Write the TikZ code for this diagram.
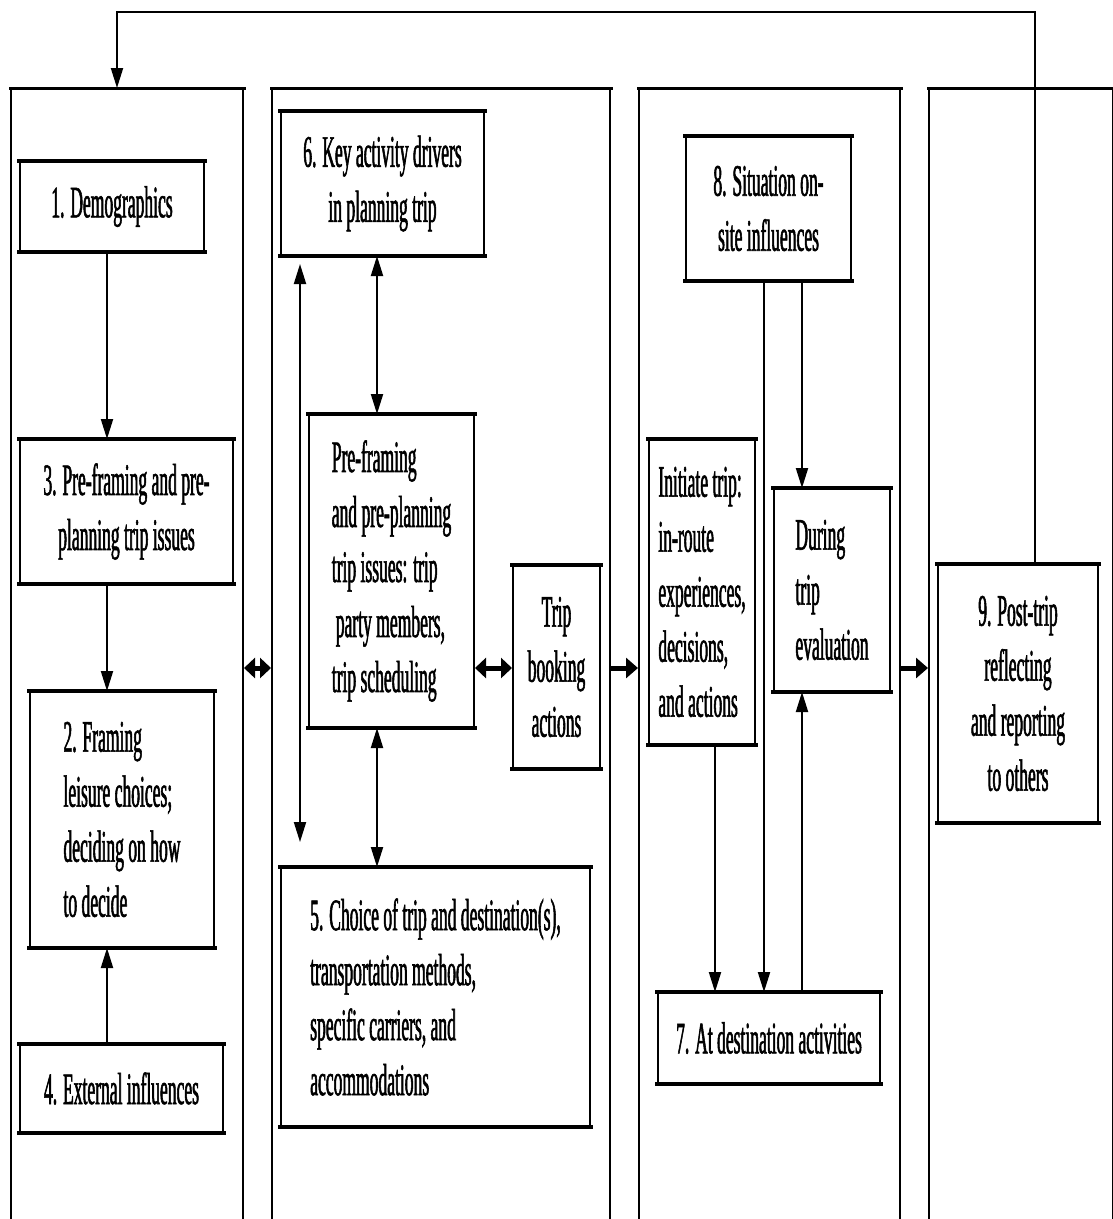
\documentclass[tikz,border=0pt]{standalone}
\usepackage{fontspec}
\setmainfont{Liberation Serif}[FakeStretch=0.39, FakeBold=1.2]
\usetikzlibrary{arrows.meta,calc}

\begin{document}
\begin{tikzpicture}[x=1pt,y=-1pt,
  panel/.style={draw, line width=2pt, inner sep=0pt, anchor=north west, minimum height=1200pt},
  box/.style={draw, line width=2pt, inner sep=0pt, fill=white,
    font=\fontsize{45}{55}\selectfont},
  arr/.style={line width=2pt, -{Triangle[length=20pt,width=12pt]}},
  darr/.style={line width=2pt, {Triangle[length=20pt,width=12pt]}-{Triangle[length=20pt,width=12pt]}},
  fatarr/.style={line width=5pt, -{Triangle[length=12pt,width=20pt]}},
  fatdarr/.style={line width=5pt, {Triangle[length=11pt,width=20pt]}-{Triangle[length=11pt,width=20pt]}},
]
\useasboundingbox (0,0) rectangle (1113,1219);
\fill[white] (0,0) rectangle (1113,1219);
\clip (0,0) rectangle (1113,1219);

% four stage panels, open at the bottom
\node[panel, minimum width=232pt] (p1) at (10,88) {};
\node[panel, minimum width=338pt] (p2) at (271,88) {};
\node[panel, minimum width=261pt] (p3) at (638,88) {};
\node[panel, minimum width=184pt] (p4) at (928,88) {};
\foreach \p in {p1,p2,p3,p4}
  \draw[line width=3pt, line cap=rect] (\p.north west) -- (\p.north east);

% stage 1: framing
\node[box, minimum width=184pt, minimum height=89pt, align=center] (b1) at (112,206.5) {1. Demographics};
\node[box, minimum width=213pt, minimum height=143pt, align=center] (b3) at (126.5,511.5) {3. Pre-framing and pre-\\planning trip issues};
\node[box, minimum width=184pt, minimum height=255pt, align=left] (b2) at (122,819.5) {2. Framing\\leisure choices;\\deciding on how\\to decide};
\node[box, minimum width=203pt, minimum height=87pt, align=center] (b4) at (121.5,1088.5) {4. External influences};

% stage 2: planning
\node[box, minimum width=203pt, minimum height=143pt, align=center] (b6) at (382.5,183.5) {6. Key activity drivers\\in planning trip};
\node[box, minimum width=165pt, minimum height=312pt, align=left] (bpre) at (391.5,571) {Pre-framing\\and pre-planning\\trip issues: trip\\\kern4pt party members,\\trip scheduling};
\node[box, minimum width=87pt, minimum height=202pt, align=center] (bt) at (556.5,667) {Trip\\booking\\actions};
\node[box, minimum width=309pt, minimum height=258pt, align=left] (b5) at (435.5,997) {5. Choice of trip and destination(s),\\transportation methods,\\specific carriers, and\\accommodations};

% stage 3: the trip
\node[box, minimum width=165pt, minimum height=143pt, align=center] (b8) at (768.5,208.5) {8. Situation on-\\site influences};
\node[box, minimum width=106pt, minimum height=304pt, align=left] (bi) at (702,592) {Initiate trip:\\in-route\\experiences,\\decisions,\\and actions};
\node[box, minimum width=116pt, minimum height=202pt, align=left] (bd) at (832,590) {During\\trip\\evaluation};
\node[box, minimum width=222pt, minimum height=90pt, align=center] (b7) at (769,1038) {7. At destination activities};

% stage 4: after the trip
\node[box, minimum width=160pt, minimum height=257pt, align=center] (b9) at (1018,693.5) {9. Post-trip\\reflecting\\and reporting\\to others};

% heavier top and bottom rules on the boxes
\foreach \n in {b1,b3,b2,b4,b6,bpre,bt,b5,b8,bi,bd,b7,b9}
  \draw[line width=3.5pt, line cap=rect]
    (\n.north west) -- (\n.north east) (\n.south west) -- (\n.south east);

% column positions of the connectors
\coordinate (xa) at (107,0);
\coordinate (xb) at (377,0);
\coordinate (xc) at (300,0);
\coordinate (xd) at (715,0);
\coordinate (xe) at (764,0);
\coordinate (xf) at (802,0);
\coordinate (xg) at (1035,0);
\coordinate (xh) at (117,0);
\coordinate (ym) at (0,668);
\coordinate (yt) at (0,12);

% stage 1 flow
\draw[arr] (b1.south -| xa) -- (b3.north -| xa);
\draw[arr] (b3.south -| xa) -- (b2.north -| xa);
\draw[arr] (b4.north -| xa) -- (b2.south -| xa);

% stage 2 flow
\draw[darr] (b6.south -| xb) -- (bpre.north -| xb);
\draw[darr] (bpre.south -| xb) -- (b5.north -| xb);
\coordinate (vt) at ($(b6.south -| xc)+(0,8)$);
\coordinate (vb) at ($(b5.north -| xc)+(0,-25)$);
\draw[darr] (vt) -- (vb);
\draw[fatdarr] (bpre.east |- ym) -- (bt.west |- ym);

% between the stages
\draw[fatdarr] (p1.east |- ym) -- (p2.west |- ym);
\draw[fatarr] (p2.east |- ym) -- (p3.west |- ym);
\draw[fatarr] (p3.east |- ym) -- (p4.west |- ym);

% stage 3 flow
\draw[arr] (bi.south -| xd) -- (b7.north -| xd);
\draw[arr] (b8.south -| xe) -- (b7.north -| xe);
\draw[arr] (b8.south -| xf) -- (bd.north -| xf);
\draw[arr] (b7.north -| xf) -- (bd.south -| xf);

% feedback from post-trip back to the start
\draw[arr] (b9.north -| xg) -- (xg |- yt) -| (p1.north -| xh);
\end{tikzpicture}
\end{document}
